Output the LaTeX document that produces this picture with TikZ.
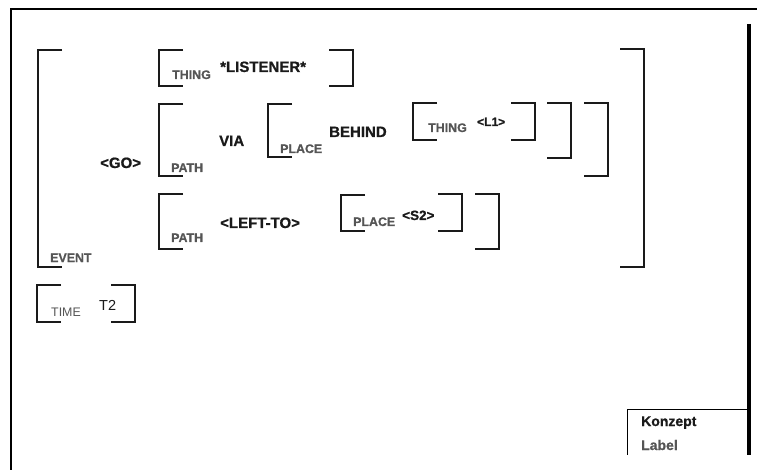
\documentclass[tikz,border=0pt]{standalone}
\usepackage{fontspec}
\setmainfont{Liberation Sans}[BoldFeatures={FakeBold=0.8}]
\definecolor{ink}{HTML}{1A1A1A}
\definecolor{lbl}{HTML}{555555}
\tikzset{
  brk/.style={draw=ink, line width=2pt, miter limit=10},
  frameline/.style={draw=black, line width=2.4pt},
  word/.style={anchor=base west, inner sep=0pt, text=ink, font=\fontsize{15}{16}\selectfont\bfseries},
  small/.style={anchor=base west, inner sep=0pt, text=ink, font=\fontsize{12}{14}\selectfont\bfseries},
  role/.style={anchor=base west, inner sep=0pt, text=lbl, font=\fontsize{12.4}{14}\selectfont\bfseries},
  plain/.style={anchor=base west, inner sep=0pt, text=ink, font=\fontsize{14.5}{16}\selectfont},
  plainrole/.style={anchor=base west, inner sep=0pt, text=lbl, font=\fontsize{12.4}{14}\selectfont},
}
% opening / closing square brackets: x, top y, bottom y
\newcommand\openbr[3]{\draw[brk] (#1+24,#2) -| (#1,#3) -- (#1+24,#3);}
\newcommand\closebr[3]{\draw[brk] (#1-24,#2) -| (#1,#3) -- (#1-24,#3);}
\begin{document}
\begin{tikzpicture}[x=1pt,y=-1pt]
\useasboundingbox (0,0) rectangle (757,470);
\fill[white] (0,0) rectangle (757,470);

% window frame
\draw[frameline] (757,9) -- (11,9) -- (11,470);
\draw[black, line width=3.5pt] (749,24) -- (749,455);
\draw[black, line width=1pt] (749,409) -- (627,409) -- (627,455);

% EVENT
\openbr{38}{50}{267}
\closebr{644}{49}{267}
\node[role] (ev) at (50,262) {EVENT};
\node[word] (go) at (100,168) {<GO>};

% THING *LISTENER*
\openbr{159}{50}{86}
\closebr{353}{50}{86}
\node[role] (th1) at (172,79) {THING};
\node[word] (lis) at (220,72) {*LISTENER*};

% PATH VIA ...
\openbr{159}{104}{176}
\closebr{608}{103}{176}
\node[role] (pa1) at (171,172) {PATH};
\node[word] (via) at (219,146) {VIA};

% PLACE BEHIND ...
\openbr{268}{104}{157}
\closebr{571}{103}{158}
\node[role] (pl1) at (280,153) {PLACE};
\node[word] (beh) at (329,137) {BEHIND};

% THING <L1>
\openbr{413}{103}{140}
\closebr{535}{103}{140}
\node[role] (th2) at (428,132) {THING};
\node[small] (l1) at (477,126) {<L1>};

% PATH <LEFT-TO> ...
\openbr{159}{194}{249}
\closebr{499}{194}{249}
\node[role] (pa2) at (171,242) {PATH};
\node[word] (lt) at (220,228) {<LEFT-TO>};

% PLACE <S2>
\openbr{341}{195}{231}
\closebr{462}{194}{231}
\node[role] (pl2) at (353,226) {PLACE};
\node[word, font=\fontsize{13.5}{15}\selectfont\bfseries] (s2) at (402,220) {<S2>};

% TIME T2
\openbr{37}{285}{322}
\closebr{135}{285}{322}
\node[plainrole] (tm) at (51,316) {TIME};
\node[plain] (t2) at (99,310) {T2};

% legend
\node[word, font=\fontsize{14}{16}\selectfont\bfseries] (kz) at (641,426) {Konzept};
\node[role, font=\fontsize{14}{16}\selectfont\bfseries] (lb) at (641,450) {Label};
\end{tikzpicture}
\end{document}
